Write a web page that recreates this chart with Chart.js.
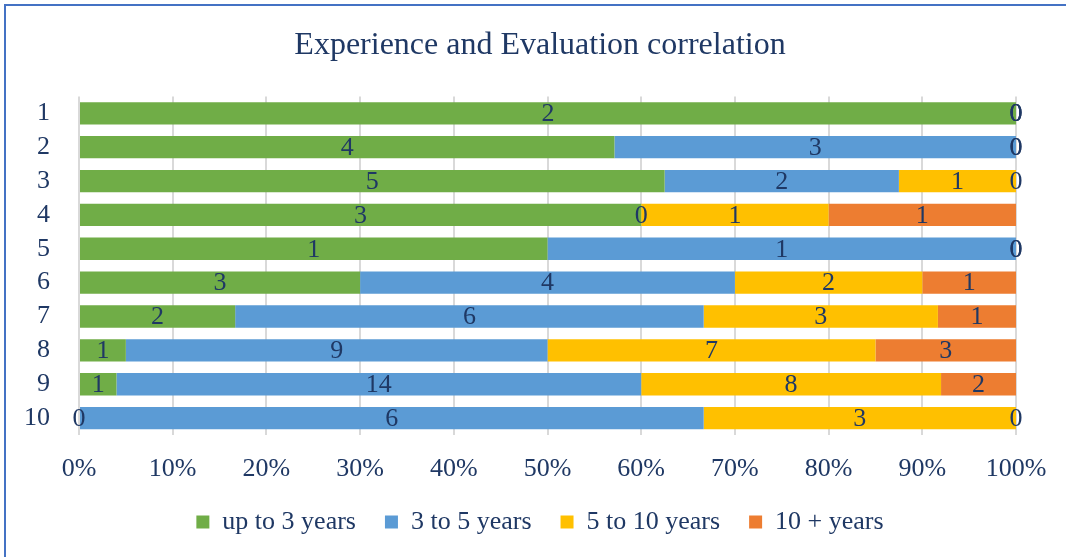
<!DOCTYPE html>
<html>
<head>
<meta charset="utf-8">
<script src="https://cdn.jsdelivr.net/npm/chart.js@4.4.0/dist/chart.umd.min.js"></script>
<style>
html,body{margin:0;padding:0;background:#fff;overflow:hidden;width:1066px;height:557px;}
#frame{position:absolute;left:4px;top:4px;width:1100px;height:600px;border:2px solid #4472C4;box-sizing:border-box;}
#wrap{position:absolute;left:0;top:0;width:1066px;height:557px;}
</style>
</head>
<body>
<div id="frame"></div>
<div id="wrap"><canvas id="c" width="1066" height="557"></canvas></div>
<script>
const categories = ['1','2','3','4','5','6','7','8','9','10'];
const seriesNames = ['up to 3 years','3 to 5 years','5 to 10 years','10 + years'];
const upTo3 = [2,4,5,3,1,3,2,1,1,0];
const from3to5 = [0,3,2,0,1,4,6,9,14,6];
const from5to10 = [0,0,1,1,0,2,3,7,8,3];
const over10 = [0,0,0,1,0,1,1,3,2,0];
const xTickLabels = ['0%','10%','20%','30%','40%','50%','60%','70%','80%','90%','100%'];
const colors = ['#70AD47','#5B9BD5','#FFC000','#ED7D31'];

const raw = [upTo3, from3to5, from5to10, over10];
const totals = categories.map((_, i) => raw.reduce((s, arr) => s + arr[i], 0));
const pct = raw.map(arr => arr.map((v, i) => totals[i] ? v / totals[i] * 100 : 0));

const TXT = '#1F3864';
const FONT = 'Liberation Serif';

const labelPlugin = {
  id: 'segLabels',
  afterDatasetsDraw(chart) {
    const ctx = chart.ctx;
    ctx.save();
    ctx.font = '26px "' + FONT + '"';
    ctx.fillStyle = TXT;
    ctx.textAlign = 'center';
    ctx.textBaseline = 'middle';
    chart.data.datasets.forEach((ds, d) => {
      const meta = chart.getDatasetMeta(d);
      meta.data.forEach((el, i) => {
        const v = raw[d][i];
        const cx = (el.x + el.base) / 2;
        ctx.fillText(String(v), cx, el.y + 1);
      });
    });
    ctx.restore();
  }
};

new Chart(document.getElementById('c'), {
  type: 'bar',
  data: {
    labels: categories,
    datasets: seriesNames.map((n, d) => ({
      label: n,
      data: pct[d],
      backgroundColor: colors[d],
      borderWidth: 0,
      barPercentage: 0.66,
      categoryPercentage: 1.0
    }))
  },
  options: {
    indexAxis: 'y',
    responsive: false,
    animation: false,
    layout: { padding: { left: 14, right: 0, top: 0, bottom: 12 } },
    plugins: {
      title: {
        display: true,
        text: 'Experience and Evaluation correlation',
        color: TXT,
        font: { family: FONT, size: 32, weight: 'normal' },
        padding: { top: 26, bottom: 32 }
      },
      legend: {
        position: 'bottom',
        labels: {
          color: TXT,
          font: { family: FONT, size: 26 },
          boxWidth: 13,
          boxHeight: 13,
          padding: 29
        }
      },
      tooltip: { enabled: false }
    },
    scales: {
      x: {
        stacked: true,
        min: 0,
        max: 100,
        afterFit(s) { s.height = 45; },
        afterBuildTicks(s) { s.ticks = xTickLabels.map((_, i) => ({ value: i * 10 })); },
        ticks: {
          color: TXT,
          font: { family: FONT, size: 26 },
          padding: 19,
          maxRotation: 0,
          autoSkip: false,
          callback: (v, i) => xTickLabels[i]
        },
        grid: { color: '#D9D9D9', lineWidth: 2, drawTicks: false },
        border: { display: false }
      },
      y: {
        stacked: true,
        afterFit(s) { s.width = 65; },
        ticks: {
          color: TXT,
          font: { family: FONT, size: 26 },
          padding: 29,
          autoSkip: false
        },
        grid: { display: false, drawTicks: false },
        border: { display: false }
      },
      yRight: {
        type: 'category',
        position: 'right',
        afterFit(s) { s.width = 50; },
        ticks: { display: false },
        grid: { display: false, drawTicks: false },
        border: { display: false }
      }
    }
  },
  plugins: [labelPlugin]
});
</script>
</body>
</html>
